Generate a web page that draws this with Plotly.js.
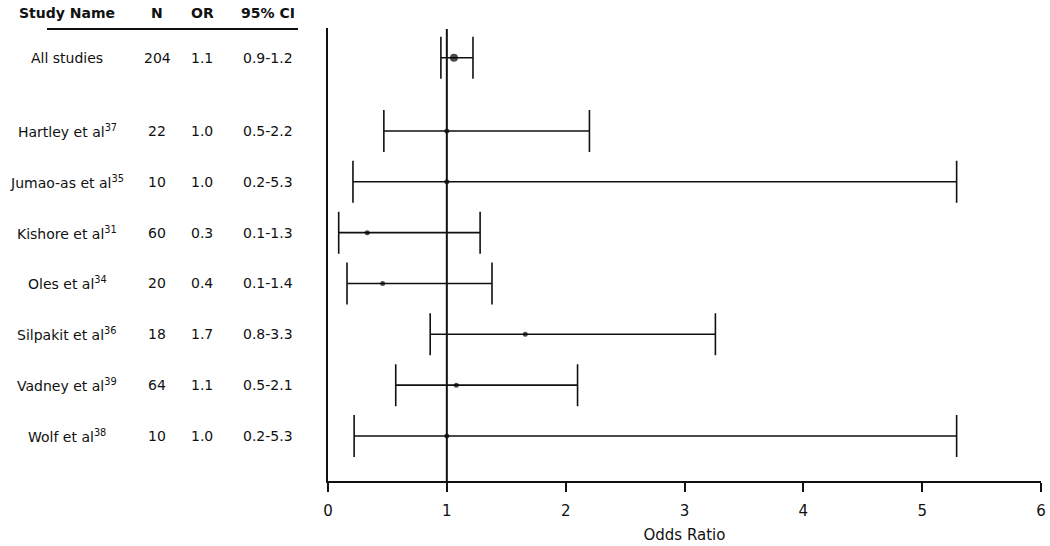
<!DOCTYPE html>
<html>
<head>
<meta charset="utf-8">
<script src="https://cdn.plot.ly/plotly-3.0.1.min.js"></script>
<style>html,body{margin:0;padding:0;background:#fff;}#chart{width:1050px;height:546px;}</style>
</head>
<body>
<div id="chart"></div>
<script>
// ---- data ----
const studyNames = ["All studies", "Hartley et al<sup>37</sup>", "Jumao-as et al<sup>35</sup>", "Kishore et al<sup>31</sup>", "Oles et al<sup>34</sup>", "Silpakit et al<sup>36</sup>", "Vadney et al<sup>39</sup>", "Wolf et al<sup>38</sup>"];
const nValues = ["204", "22", "10", "60", "20", "18", "64", "10"];
const orLabels = ["1.1", "1.0", "1.0", "0.3", "0.4", "1.7", "1.1", "1.0"];
const ciLabels = ["0.9-1.2", "0.5-2.2", "0.2-5.3", "0.1-1.3", "0.1-1.4", "0.8-3.3", "0.5-2.1", "0.2-5.3"];
const orValues = [1.06, 1.0, 1.0, 0.33, 0.46, 1.66, 1.08, 1.0];
const ciLow = [0.95, 0.47, 0.21, 0.09, 0.16, 0.86, 0.57, 0.22];
const ciHigh = [1.22, 2.20, 5.29, 1.28, 1.38, 3.26, 2.10, 5.29];
const headers = ["Study Name", "N", "OR", "95% CI"];
const xTicks = [0, 1, 2, 3, 4, 5, 6];

// ---- layout helpers ----
const W = 1050;
const ink = "#111111";
const fontFam = "DejaVu Sans, sans-serif";
// row positions: pooled row, then a gap, then individual studies
const rowPos = studyNames.map((_, i) => i === 0 ? 0 : i + 0.44);
const colX = [67, 157, 202, 268].map(p => p / W);

const trace = {
  type: "scatter",
  mode: "markers",
  x: orValues,
  y: rowPos,
  marker: {color: "#000", size: studyNames.map((_, i) => i === 0 ? 8 : 5), line: {width: 0}},
  error_x: {
    type: "data",
    symmetric: false,
    array: orValues.map((v, i) => ciHigh[i] - v),
    arrayminus: orValues.map((v, i) => v - ciLow[i]),
    color: ink,
    thickness: 1.6,
    width: 21
  },
  hoverinfo: "skip",
  showlegend: false
};

const annotations = [];
headers.forEach((h, c) => {
  annotations.push({
    xref: "paper", yref: "paper", x: colX[c], y: 1.033, text: "<b>" + h + "</b>",
    showarrow: false, xanchor: "center", yanchor: "middle",
    font: {family: fontFam, size: 14, color: ink}
  });
});
const cols = [studyNames, nValues, orLabels, ciLabels];
cols.forEach((col, c) => {
  col.forEach((t, i) => {
    annotations.push({
      xref: "paper", yref: "y", x: colX[c], y: rowPos[i], text: t,
      showarrow: false, xanchor: "center", yanchor: "middle",
      font: {family: fontFam, size: 14, color: ink}
    });
  });
});

const layout = {
  width: 1050,
  height: 546,
  margin: {l: 0, r: 0, t: 28, b: 65},
  paper_bgcolor: "#fff",
  plot_bgcolor: "#fff",
  font: {family: fontFam, color: ink, size: 14},
  xaxis: {
    domain: [328 / W, 1041 / W],
    range: [0, 6],
    tickvals: xTicks,
    ticktext: xTicks.map(String),
    showline: true, linecolor: ink, linewidth: 2,
    ticks: "outside", ticklen: 9, tickwidth: 2, tickcolor: ink,
    ticklabelstandoff: 6,
    showgrid: false, zeroline: false,
    tickfont: {family: fontFam, size: 15, color: ink},
    title: {text: "Odds Ratio", font: {family: fontFam, size: 15, color: ink}, standoff: 10}
  },
  yaxis: {
    range: [8.326, -0.586],
    showline: true, linecolor: ink, linewidth: 2,
    showticklabels: false, ticks: "",
    showgrid: false, zeroline: false
  },
  shapes: [
    {type: "line", xref: "x", yref: "paper", x0: 1, x1: 1, y0: 0, y1: 0.998,
     line: {color: ink, width: 2}},
    {type: "line", xref: "paper", yref: "paper", x0: 47 / W, x1: 298 / W, y0: 0.998, y1: 0.998,
     line: {color: ink, width: 2}}
  ],
  annotations: annotations
};

Plotly.newPlot("chart", [trace], layout, {staticPlot: true, displayModeBar: false});
</script>
</body>
</html>
